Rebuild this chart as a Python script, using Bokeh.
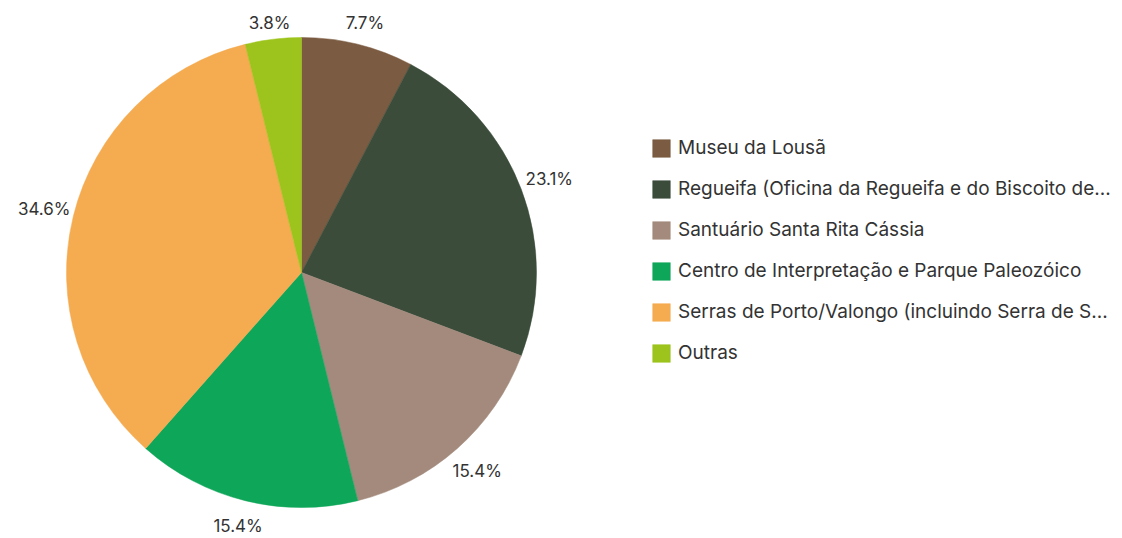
import numpy as np
from bokeh.plotting import figure
from bokeh.models import ColumnDataSource, Legend, LegendItem, Range1d
from bokeh.core.properties import value
from bokeh.embed import file_html
from bokeh.resources import INLINE

categories = [
    "Museu da Lousã",
    "Regueifa (Oficina da Regueifa e do Biscoito de...",
    "Santuário Santa Rita Cássia",
    "Centro de Interpretação e Parque Paleozóico",
    "Serras de Porto/Valongo (incluindo Serra de S...",
    "Outras",
]
counts = [2, 6, 4, 4, 9, 1]
colors = ["#7b5b41", "#3b4c3a", "#a38a7c", "#0ea659", "#f5ab50", "#9cc41c"]

W, H = 1120, 536
FONT = "Inter"
cx, cy, R = 301, H - 272, 235
LR = 265

vals = np.array(counts, dtype=float)
frac = vals / vals.sum()
cum = np.concatenate([[0], np.cumsum(frac)])
start = np.pi / 2 - cum[:-1] * 2 * np.pi
end = np.pi / 2 - cum[1:] * 2 * np.pi
mid = (start + end) / 2
pct = [f"{f*100:.1f}%" for f in frac]
lx = cx + LR * np.cos(mid)
ly = np.clip(cy + LR * np.sin(mid), 11, H - 22)

src = ColumnDataSource(dict(cat=categories, start=start, end=end, color=colors,
                            lx=lx, ly=ly, pct=pct))

p = figure(width=W, height=H, output_backend="svg", toolbar_location=None,
           x_range=Range1d(0, W), y_range=Range1d(0, H), min_border=0)
p.axis.visible = False
p.grid.visible = False
p.outline_line_color = None

r = p.wedge(x=cx, y=cy, radius=R, start_angle="start", end_angle="end",
            direction="clock", fill_color="color", line_color="color",
            line_width=0.5, source=src)

p.text(x="lx", y="ly", text="pct", source=src, text_align="center",
       text_baseline="middle", text_font=value(FONT), text_font_size="17px",
       text_color="#333333")

items = [LegendItem(label=c, renderers=[r], index=i) for i, c in enumerate(categories)]
legend = Legend(items=items, location=(650, H - 364), orientation="vertical",
                glyph_width=22, glyph_height=22, label_height=22, spacing=18,
                padding=0, margin=0, border_line_color=None,
                background_fill_alpha=0, label_text_font=FONT,
                label_text_font_size="19px", label_text_color="#333333",
                label_standoff=6)
p.add_layout(legend, "center")

open("out.html", "w").write(file_html(p, INLINE))
